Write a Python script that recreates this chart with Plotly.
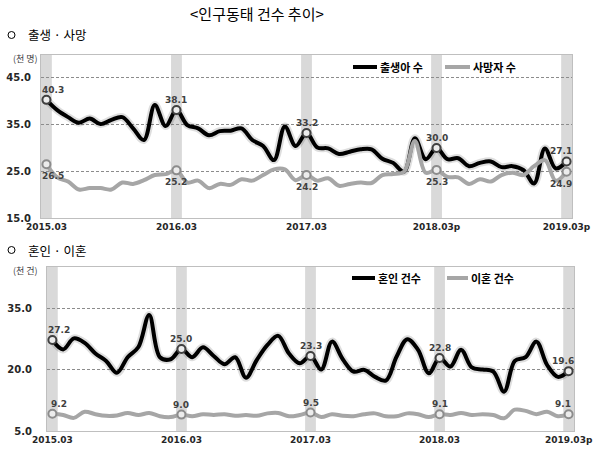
import plotly.graph_objects as go

# ---------------- data ----------------
months = [f"{2015 + (2 + k) // 12}.{(2 + k) % 12 + 1:02d}" for k in range(49)]  # 2015.03 .. 2019.03

births = [40.3, 38.1, 36.6, 35.4, 36.3, 35.1, 36.0, 36.6, 34.2, 31.7,
          39.2, 34.7, 38.1, 34.9, 34.2, 32.7, 33.6, 33.7, 34.2, 31.7,
          30.4, 27.4, 34.6, 30.4, 33.2, 30.1, 29.9, 28.7, 29.2, 29.7,
          29.7, 27.7, 26.8, 24.9, 32.1, 27.6, 30.0, 27.6, 27.8, 26.1,
          26.8, 27.1, 25.9, 26.1, 25.3, 22.4, 29.9, 25.6, 27.1]
deaths = [26.5, 23.7, 22.8, 21.1, 21.4, 21.4, 21.1, 22.6, 22.3, 23.1,
          24.2, 24.4, 25.2, 22.6, 23.0, 21.4, 22.3, 22.1, 23.3, 23.0,
          24.2, 25.4, 25.4, 23.1, 24.2, 23.0, 23.5, 21.9, 22.3, 22.6,
          22.5, 24.2, 24.4, 24.9, 31.5, 24.7, 25.3, 23.8, 23.7, 22.3,
          23.3, 22.8, 24.2, 24.7, 24.2, 26.1, 27.4, 23.0, 24.9]
marriages = [27.2, 24.9, 27.6, 26.5, 23.9, 22.1, 19.2, 23.0, 25.5, 33.3,
             23.0, 22.5, 25.0, 23.0, 25.4, 23.3, 21.3, 23.0, 18.0, 22.3,
             26.0, 28.2, 23.9, 21.5, 23.3, 20.0, 26.8, 22.5, 19.5, 19.9,
             18.2, 17.3, 23.1, 27.4, 24.8, 19.1, 22.8, 20.7, 24.8, 20.5,
             20.0, 19.5, 14.6, 22.1, 23.0, 26.8, 21.1, 18.2, 19.6]
divorces = [9.2, 8.9, 8.2, 9.7, 9.1, 8.7, 8.8, 9.4, 8.9, 9.4,
            8.6, 8.4, 9.0, 8.6, 9.1, 8.9, 9.1, 8.7, 8.9, 8.7,
            9.3, 9.4, 8.6, 8.9, 9.5, 8.4, 9.1, 8.7, 8.6, 9.1,
            9.3, 8.6, 8.6, 9.3, 9.1, 8.4, 9.1, 8.9, 9.4, 8.9,
            9.1, 8.9, 8.1, 10.2, 9.9, 9.1, 9.7, 8.6, 9.1]

march_idx = [0, 12, 24, 36, 48]
top_ticktext = ["2015.03", "2016.03", "2017.03", "2018.03p", "2019.03p"]
bot_ticktext = ["2015.03", "2016.03", "2017.03", "2018.03", "2019.03p"]

title_text = "<인구동태 건수 추이>"
sec1 = "출생 · 사망"
sec2 = "혼인 · 이혼"
unit1 = "(천 명)"
unit2 = "(천 건)"
names_top = ["출생아 수", "사망자 수"]
names_bot = ["혼인 건수", "이혼 건수"]

# ---------------- style ----------------
KR = "Noto Sans CJK KR"
NUM = "DejaVu Sans"
BLACK = "#000000"
GRAY = "#a6a6a6"
W, H = 600, 456

fig = go.Figure()
annotations = []


def add_series(vals, color, xa, ya, below, mk_line, shadow=True):
    if shadow:
        fig.add_trace(go.Scatter(x=months, y=vals, mode="lines", xaxis=xa, yaxis=ya,
                                 line=dict(color="rgba(0,0,0,0.13)", width=8, shape="spline", smoothing=1),
                                 hoverinfo="skip", showlegend=False))
    fig.add_trace(go.Scatter(x=months, y=vals, mode="lines", xaxis=xa, yaxis=ya,
                             line=dict(color=color, width=4, shape="spline", smoothing=1),
                             showlegend=False))
    mx = [months[i] for i in march_idx]
    my = [vals[i] for i in march_idx]
    fig.add_trace(go.Scatter(x=mx, y=my, mode="markers", xaxis=xa, yaxis=ya,
                             marker=dict(symbol="circle", size=8, color="#ececec",
                                         line=dict(color=mk_line, width=2)),
                             cliponaxis=False, showlegend=False))
    for k, i in enumerate(march_idx):
        yv = vals[i]
        xs = 7 if k == 0 else (-6 if k == len(march_idx) - 1 else 0)
        annotations.append(dict(text=f"{yv:.1f}", x=i, y=yv, xref=xa, yref=ya,
                                showarrow=False, xshift=xs, yshift=-12 if below else 10,
                                font=dict(family=NUM, size=9, color="#404040", weight="bold")))


add_series(births, BLACK, "x", "y", False, "#404040")
add_series(deaths, GRAY, "x", "y", True, "#8c8c8c", shadow=False)
add_series(marriages, BLACK, "x2", "y2", False, "#404040")
add_series(divorces, GRAY, "x2", "y2", False, "#8c8c8c", shadow=False)

shapes = []
for xr, yr in (("x", "y domain"), ("x2", "y2 domain")):
    for i in march_idx:
        shapes.append(dict(type="rect", xref=xr, yref=yr, x0=i - 0.5, x1=i + 0.5, y0=0, y1=1,
                           fillcolor="#d9d9d9", line=dict(width=0), layer="below"))


def px_x(p):
    return p / W


def px_y(p):
    return 1 - p / H


# manual legends
leg = [
    (353, 377, 67, BLACK, names_top[0]), (445, 470, 67, GRAY, names_top[1]),
    (352, 375, 278, BLACK, names_bot[0]), (447, 468, 278, GRAY, names_bot[1]),
]
for x0, x1, yy, col, name in leg:
    shapes.append(dict(type="line", xref="paper", yref="paper", x0=px_x(x0), x1=px_x(x1),
                       y0=px_y(yy), y1=px_y(yy), line=dict(color=col, width=4)))
    annotations.append(dict(text=name, xref="paper", yref="paper", x=px_x(x1 + 1), y=px_y(yy),
                            xanchor="left", yanchor="middle", showarrow=False,
                            font=dict(family=KR, size=11, color="#000", weight="bold")))

# section bullets (small circles)
for yy in (35, 250):
    shapes.append(dict(type="circle", xref="paper", yref="paper",
                       x0=px_x(8), x1=px_x(15), y0=px_y(yy + 3.5), y1=px_y(yy - 3.5),
                       line=dict(color="#000", width=1)))

annotations += [
    dict(text=title_text, xref="paper", yref="paper", x=px_x(257), y=px_y(13), xanchor="center",
         yanchor="middle", showarrow=False, font=dict(family=KR, size=15, color="#000")),
    dict(text=sec1, xref="paper", yref="paper", x=px_x(26), y=px_y(35), xanchor="left",
         yanchor="middle", showarrow=False, font=dict(family=KR, size=12.5, color="#000")),
    dict(text=sec2, xref="paper", yref="paper", x=px_x(26), y=px_y(250), xanchor="left",
         yanchor="middle", showarrow=False, font=dict(family=KR, size=12.5, color="#000")),
    dict(text=unit1, xref="paper", yref="paper", x=px_x(11), y=px_y(58), xanchor="left",
         yanchor="middle", showarrow=False, font=dict(family=KR, size=9, color="#404040")),
    dict(text=unit2, xref="paper", yref="paper", x=px_x(11), y=px_y(270), xanchor="left",
         yanchor="middle", showarrow=False, font=dict(family=KR, size=9, color="#404040")),
]

tickfont_y = dict(family=NUM, size=10, color="#262626", weight="bold")
tickfont_x = dict(family=NUM, size=9, color="#262626", weight="bold")

common_x = dict(type="category", range=[-0.5, 48.5], showgrid=False, showline=True,
                linecolor="#bfbfbf", mirror=True, ticks="", tickfont=tickfont_x, zeroline=False,
                automargin=False)
common_y = dict(showgrid=True, gridcolor="#8c8c8c", griddash="3px,2px", gridwidth=1,
                showline=True, linecolor="#bfbfbf", mirror=True, ticks="outside",
                tickcolor="rgba(0,0,0,0)", zeroline=False, automargin=False,
                tickformat=".1f", tickfont=tickfont_y)

fig.update_layout(
    width=W, height=H, margin=dict(l=0, r=0, t=0, b=0),
    paper_bgcolor="white", plot_bgcolor="white", showlegend=False,
    xaxis=dict(**common_x, domain=[px_x(41), px_x(572)], anchor="y",
               tickvals=[months[i] for i in march_idx], ticktext=top_ticktext),
    yaxis=dict(**common_y, domain=[px_y(218), px_y(55)], anchor="x", range=[15, 49.9],
               tick0=15, dtick=10, ticklen=7),
    xaxis2=dict(**common_x, domain=[px_x(47), px_x(574)], anchor="y2",
                tickvals=[months[i] for i in march_idx], ticktext=bot_ticktext),
    yaxis2=dict(**common_y, domain=[px_y(431), px_y(267)], anchor="x2", range=[5, 45],
                tick0=5, dtick=15, ticklen=12),
    shapes=shapes, annotations=annotations,
)

fig.write_html("out.html")
